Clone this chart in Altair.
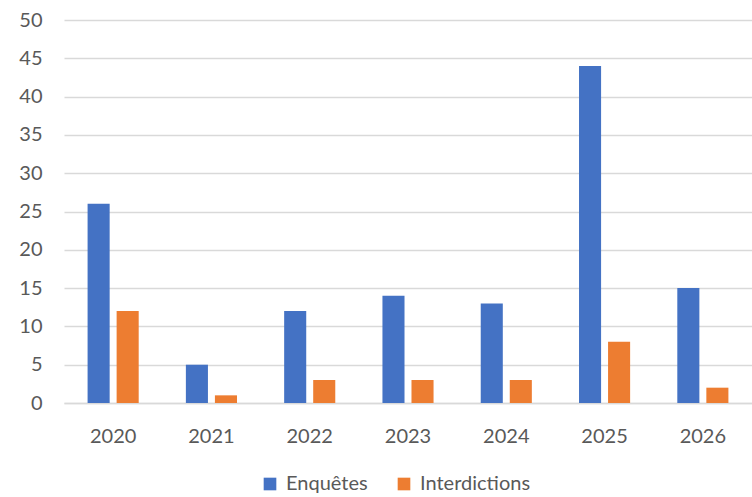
import altair as alt
import pandas as pd

years = ["2020", "2021", "2022", "2023", "2024", "2025", "2026"]
enquetes = [26, 5, 12, 14, 13, 44, 15]
interdictions = [12, 1, 3, 3, 3, 8, 2]
series = ["Enquêtes", "Interdictions"]
colors = ["#4472C4", "#ED7D31"]

rows = []
for y, e, i in zip(years, enquetes, interdictions):
    rows.append({"year": y, "series": series[0], "value": e})
    rows.append({"year": y, "series": series[1], "value": i})
df = pd.DataFrame(rows)

FONT = "Lato"
GREY = "#595959"

chart = alt.Chart(df).mark_bar().encode(
    x=alt.X("year:N", sort=years, title=None,
            scale=alt.Scale(paddingInner=0.48, paddingOuter=0.24),
            axis=alt.Axis(labelAngle=0, labelFontSize=20, labelColor=GREY, labelFont=FONT,
                          labelPadding=23, ticks=False, domainColor="#D9D9D9", domainWidth=1.5,
                          grid=False)),
    xOffset=alt.XOffset("series:N", sort=series,
                        scale=alt.Scale(paddingInner=0.24, paddingOuter=0)),
    y=alt.Y("value:Q", title=None,
            scale=alt.Scale(domain=[0, 50]),
            axis=alt.Axis(values=list(range(0, 51, 5)), labelFontSize=20, labelColor=GREY,
                          labelFont=FONT, labelPadding=22, ticks=False, domain=False,
                          gridColor="#D9D9D9", gridWidth=1.5)),
    color=alt.Color("series:N", sort=series,
                    scale=alt.Scale(domain=series, range=colors),
                    legend=alt.Legend(title=None, orient="none", direction="horizontal",
                                      legendX=196, legendY=454, symbolType="square",
                                      symbolSize=160, symbolStrokeWidth=0,
                                      labelFontSize=20, labelColor=GREY, labelFont=FONT,
                                      labelOffset=6, columnPadding=26, symbolOffset=0)),
).properties(
    width=688, height=383,
    padding={"left": 64, "top": 20, "right": 0, "bottom": 94},
    autosize=alt.AutoSizeParams(type="none"),
).configure_view(stroke=None)

chart.save("out.html", embed_options={"renderer": "svg", "actions": False})
